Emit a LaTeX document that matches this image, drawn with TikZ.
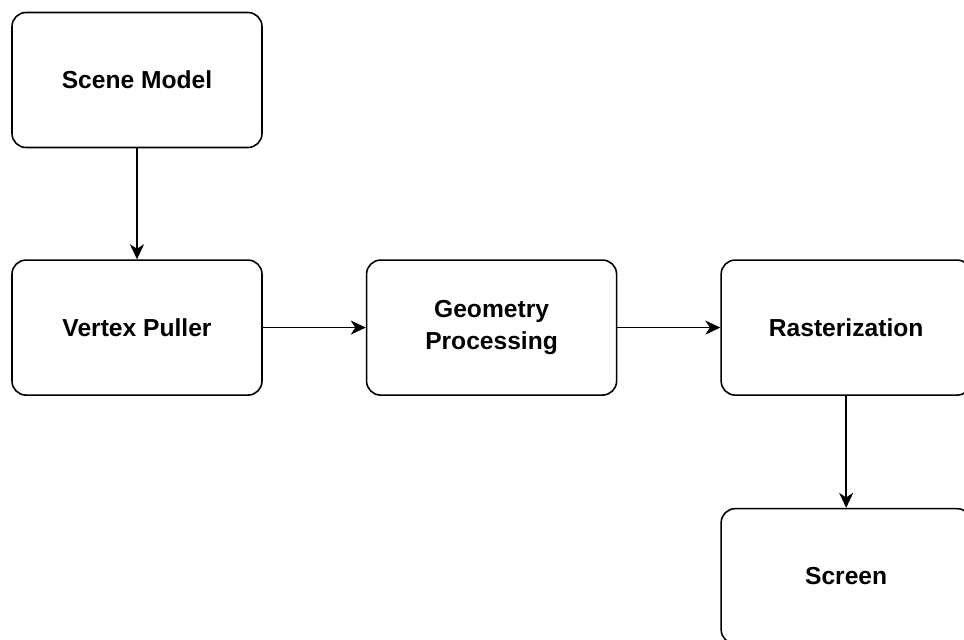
\documentclass[tikz,border=0pt]{standalone}
\usepackage{fontspec}
\setmainfont{Liberation Sans}
\usepackage{tikz}
\usetikzlibrary{arrows.meta,positioning}

\begin{document}
\begin{tikzpicture}[
  font=\fontsize{14}{18}\selectfont\bfseries,
  stage/.style={draw,line width=0.9pt,rounded corners=0.28cm,minimum width=5cm,minimum height=2.7cm,align=center},
  flow/.style={line width=0.9pt,-{Stealth[length=3mm,width=2.8mm,inset=0.9mm]}}
]
  \useasboundingbox (0,0) rectangle (19.28,-12.78);
  \node[stage] (scene) at (2.74,-1.60) {Scene Model};
  \node[stage,below=2.22cm of scene] (puller) {Vertex Puller};
  \node[stage,right=2.06cm of puller] (geom) {Geometry\\Processing};
  \node[stage,right=2.06cm of geom] (raster) {Rasterization};
  \node[stage,below=2.24cm of raster] (screen) {Screen};
  \draw[flow] (scene) -- (puller);
  \draw[flow] (puller) -- (geom);
  \draw[flow] (geom) -- (raster);
  \draw[flow] (raster) -- (screen);
\end{tikzpicture}
\end{document}
